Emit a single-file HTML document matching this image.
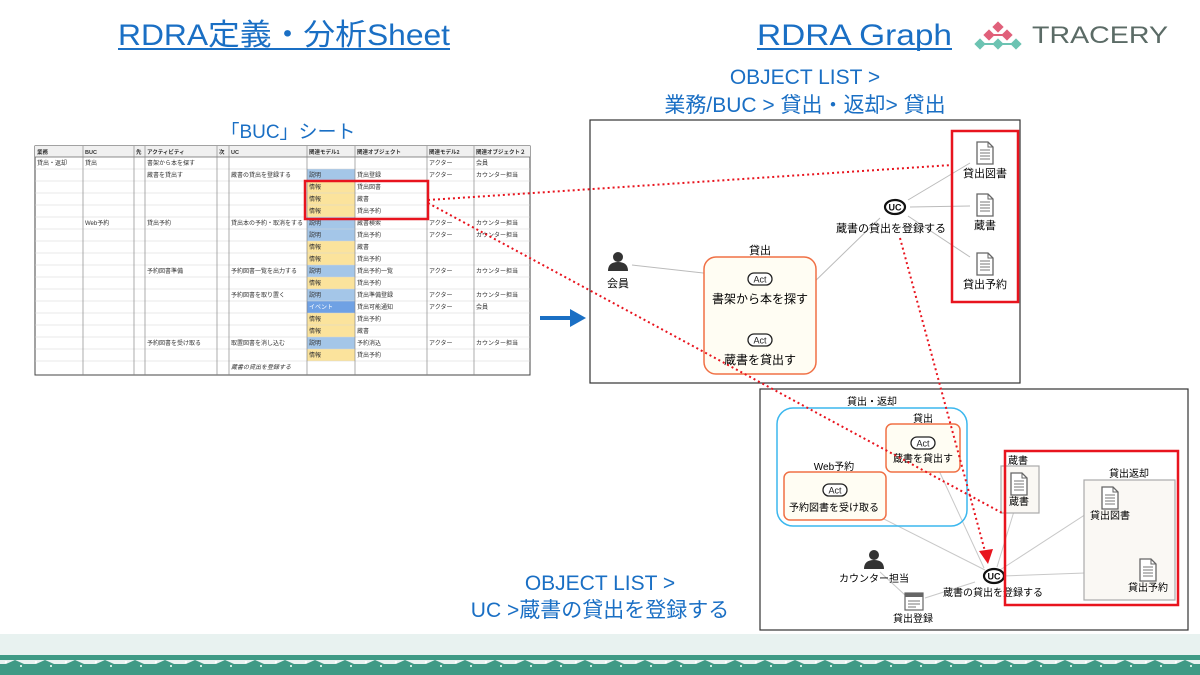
<!DOCTYPE html>
<html><head><meta charset="utf-8"><style>
html,body{margin:0;padding:0;background:#fff;width:1200px;height:675px;overflow:hidden}
svg{display:block}
text{font-family:"Liberation Sans","Noto Sans CJK JP",sans-serif}
</style></head><body>
<svg width="1200" height="675" viewBox="0 0 1200 675" xmlns="http://www.w3.org/2000/svg">
<defs>
<g id="doc"><path d="M-8,-11 h11 l5,5 v17 h-16 z" fill="#fff" stroke="#666" stroke-width="1.3"/><path d="M3,-11 v5 h5" fill="none" stroke="#666"/><path d="M-5,-3 h10 M-5,0 h10 M-5,3 h10 M-5,6 h10" stroke="#777" stroke-width="1"/></g>
<g id="act"><rect x="-12" y="-6" width="24" height="12" rx="6" fill="#fff" stroke="#222" stroke-width="1.3"/><text x="0" y="3.5" font-size="9" text-anchor="middle" fill="#222">Act</text></g>
<g id="uc"><ellipse cx="0" cy="0" rx="10" ry="7" fill="#fff" stroke="#111" stroke-width="2.2"/><text x="0" y="3.5" font-size="9" font-weight="bold" text-anchor="middle" fill="#111">UC</text></g>
<g id="actor"><circle cx="0" cy="-5" r="5" fill="#333"/><path d="M-10,9 q0,-9 10,-9 q10,0 10,9 z" fill="#333"/></g>
<pattern id="pat" x="0" y="0" width="30" height="20" patternUnits="userSpaceOnUse">
<rect width="30" height="20" fill="#3f9a85"/>
<path d="M0,0 h30 v4 l-6,0 -9,-4 -9,4 -6,0z" fill="#e8f2f0"/>
<rect x="5" y="1" width="2" height="2" fill="#fff"/><rect x="20" y="5" width="2" height="2" fill="#cfe8e0"/>
</pattern>
</defs>

<!-- titles -->
<text x="118" y="45" font-size="30" fill="#1a6fc4" textLength="332" lengthAdjust="spacingAndGlyphs">RDRA定義・分析Sheet</text>
<line x1="118" y1="49" x2="450" y2="49" stroke="#1a6fc4" stroke-width="2"/>
<text x="757" y="45" font-size="30" fill="#1a6fc4" textLength="195" lengthAdjust="spacingAndGlyphs">RDRA Graph</text>
<line x1="757" y1="49" x2="952" y2="49" stroke="#1a6fc4" stroke-width="2"/>

<!-- logo -->
<g>
<line x1="989" y1="35" x2="1007" y2="35" stroke="#e0607a" stroke-width="2"/>
<line x1="980" y1="44" x2="1016" y2="44" stroke="#6cc3b2" stroke-width="2"/>
<rect x="994" y="23" width="8" height="8" fill="#e0607a" transform="rotate(45 998 27)"/>
<rect x="985" y="31" width="8" height="8" fill="#e0607a" transform="rotate(45 989 35)"/>
<rect x="1003" y="31" width="8" height="8" fill="#e0607a" transform="rotate(45 1007 35)"/>
<rect x="976" y="40" width="8" height="8" fill="#6cc3b2" transform="rotate(45 980 44)"/>
<rect x="994" y="40" width="8" height="8" fill="#6cc3b2" transform="rotate(45 998 44)"/>
<rect x="1012" y="40" width="8" height="8" fill="#6cc3b2" transform="rotate(45 1016 44)"/>
<text x="1032" y="43" font-size="24" fill="#5b6b66" textLength="136" lengthAdjust="spacingAndGlyphs">TRACERY</text>
</g>

<text x="805" y="84" font-size="21" fill="#1a6fc4" text-anchor="middle">OBJECT LIST &gt;</text>
<text x="805" y="112" font-size="21" fill="#1a6fc4" text-anchor="middle">業務/BUC &gt; 貸出・返却&gt; 貸出</text>
<text x="288" y="138" font-size="19" fill="#1a6fc4" text-anchor="middle">「BUC」シート</text>

<!-- spreadsheet -->
<g font-size="6" fill="#333">
<rect x="35" y="146" width="495" height="229" fill="#fff" stroke="#444" stroke-width="1"/>
<rect x="35" y="146" width="495" height="11" fill="#f0f0f0"/>
<g>
<rect x="307" y="169" width="48" height="12" fill="#a4c6e8"/>
<rect x="307" y="181" width="48" height="36" fill="#fbe39c"/>
<rect x="307" y="217" width="48" height="24" fill="#a4c6e8"/>
<rect x="307" y="241" width="48" height="24" fill="#fbe39c"/>
<rect x="307" y="265" width="48" height="12" fill="#a4c6e8"/>
<rect x="307" y="277" width="48" height="12" fill="#fbe39c"/>
<rect x="307" y="289" width="48" height="12" fill="#a4c6e8"/>
<rect x="307" y="301" width="48" height="12" fill="#6fa1e4"/>
<rect x="307" y="313" width="48" height="24" fill="#fbe39c"/>
<rect x="307" y="337" width="48" height="12" fill="#a4c6e8"/>
<rect x="307" y="349" width="48" height="12" fill="#fbe39c"/>
</g>
<g stroke="#d6d6d6" stroke-width="0.6">
<line x1="35" y1="169" x2="530" y2="169"/><line x1="35" y1="181" x2="530" y2="181"/><line x1="35" y1="193" x2="530" y2="193"/><line x1="35" y1="205" x2="530" y2="205"/><line x1="35" y1="217" x2="530" y2="217"/><line x1="35" y1="229" x2="530" y2="229"/><line x1="35" y1="241" x2="530" y2="241"/><line x1="35" y1="253" x2="530" y2="253"/><line x1="35" y1="265" x2="530" y2="265"/><line x1="35" y1="277" x2="530" y2="277"/><line x1="35" y1="289" x2="530" y2="289"/><line x1="35" y1="301" x2="530" y2="301"/><line x1="35" y1="313" x2="530" y2="313"/><line x1="35" y1="325" x2="530" y2="325"/><line x1="35" y1="337" x2="530" y2="337"/><line x1="35" y1="349" x2="530" y2="349"/><line x1="35" y1="361" x2="530" y2="361"/>
</g>
<line x1="35" y1="157" x2="530" y2="157" stroke="#666" stroke-width="0.8"/>
<g stroke="#888" stroke-width="0.7">
<line x1="83" y1="146" x2="83" y2="375"/><line x1="134" y1="146" x2="134" y2="375"/><line x1="145" y1="146" x2="145" y2="375"/><line x1="217" y1="146" x2="217" y2="375"/><line x1="229" y1="146" x2="229" y2="375"/><line x1="307" y1="146" x2="307" y2="375"/><line x1="355" y1="146" x2="355" y2="375"/><line x1="427" y1="146" x2="427" y2="375"/><line x1="474" y1="146" x2="474" y2="375"/>
</g>
<g font-weight="bold" font-size="5.5"><text x="37" y="154">業務</text><text x="85" y="154">BUC</text><text x="136" y="154">先</text><text x="147" y="154">アクティビティ</text><text x="219" y="154">次</text><text x="231" y="154">UC</text><text x="309" y="154">関連モデル1</text><text x="357" y="154">関連オブジェクト</text><text x="429" y="154">関連モデル2</text><text x="476" y="154">関連オブジェクト２</text></g>
<text x="37" y="165">貸出・返却</text><text x="85" y="165">貸出</text><text x="147" y="165">書架から本を探す</text>
<text x="147" y="177">蔵書を貸出す</text><text x="231" y="177">蔵書の貸出を登録する</text>
<text x="85" y="225">Web予約</text><text x="147" y="225">貸出予約</text><text x="231" y="225">貸出本の予約・取消をする</text>
<text x="147" y="273">予約図書準備</text><text x="231" y="273">予約図書一覧を出力する</text>
<text x="231" y="297">予約図書を取り置く</text>
<text x="147" y="345">予約図書を受け取る</text><text x="231" y="345">取置図書を消し込む</text>
<text x="231" y="369" font-style="italic">蔵書の貸出を登録する</text>
<g><text x="309" y="177">説明</text><text x="309" y="189">情報</text><text x="309" y="201">情報</text><text x="309" y="213">情報</text><text x="309" y="225">説明</text><text x="309" y="237">説明</text><text x="309" y="249">情報</text><text x="309" y="261">情報</text><text x="309" y="273">説明</text><text x="309" y="285">情報</text><text x="309" y="297">説明</text><text x="309" y="309" fill="#fff">イベント</text><text x="309" y="321">情報</text><text x="309" y="333">情報</text><text x="309" y="345">説明</text><text x="309" y="357">情報</text></g>
<g><text x="357" y="177">貸出登録</text><text x="357" y="189">貸出図書</text><text x="357" y="201">蔵書</text><text x="357" y="213">貸出予約</text><text x="357" y="225">蔵書検索</text><text x="357" y="237">貸出予約</text><text x="357" y="249">蔵書</text><text x="357" y="261">貸出予約</text><text x="357" y="273">貸出予約一覧</text><text x="357" y="285">貸出予約</text><text x="357" y="297">貸出準備登録</text><text x="357" y="309">貸出可能通知</text><text x="357" y="321">貸出予約</text><text x="357" y="333">蔵書</text><text x="357" y="345">予約消込</text><text x="357" y="357">貸出予約</text></g>
<g><text x="429" y="165">アクター</text><text x="429" y="177">アクター</text><text x="429" y="225">アクター</text><text x="429" y="237">アクター</text><text x="429" y="273">アクター</text><text x="429" y="297">アクター</text><text x="429" y="309">アクター</text><text x="429" y="345">アクター</text></g>
<g><text x="476" y="165">会員</text><text x="476" y="177">カウンター担当</text><text x="476" y="225">カウンター担当</text><text x="476" y="237">カウンター担当</text><text x="476" y="273">カウンター担当</text><text x="476" y="297">カウンター担当</text><text x="476" y="309">会員</text><text x="476" y="345">カウンター担当</text></g>
</g>
<rect x="305" y="181" width="123" height="38" fill="none" stroke="#e8141e" stroke-width="2.5"/>

<!-- blue arrow -->
<line x1="540" y1="318" x2="572" y2="318" stroke="#1a6fc4" stroke-width="4"/>
<path d="M570,309 L586,318 L570,327 z" fill="#1a6fc4"/>

<!-- graph 1 -->
<rect x="590" y="120" width="430" height="263" fill="#fff" stroke="#333" stroke-width="1.2"/>
<g stroke="#bbb" stroke-width="1" fill="none">
<line x1="632" y1="265" x2="748" y2="278"/>
<line x1="772" y1="323" x2="880" y2="218"/>
<line x1="908" y1="200" x2="970" y2="163"/>
<line x1="910" y1="207" x2="970" y2="206"/>
<line x1="908" y1="216" x2="970" y2="257"/>
<line x1="760" y1="306" x2="760" y2="322"/>
<path d="M755,316 L760,324 L765,316" stroke="#888"/>
</g>
<rect x="704" y="257" width="112" height="117" rx="12" fill="#fffdf3" stroke="#f07045" stroke-width="1.5"/>
<text x="760" y="254" font-size="11" text-anchor="middle">貸出</text>
<use href="#act" x="760" y="279"/>
<text x="760" y="303" font-size="12" text-anchor="middle">書架から本を探す</text>
<use href="#act" x="760" y="340"/>
<text x="760" y="364" font-size="12" text-anchor="middle">蔵書を貸出す</text>
<use href="#actor" x="618" y="262"/>
<text x="618" y="287" font-size="11" text-anchor="middle">会員</text>
<use href="#uc" x="895" y="207"/>
<text x="891" y="232" font-size="11" text-anchor="middle">蔵書の貸出を登録する</text>
<use href="#doc" x="985" y="153"/><text x="985" y="177" font-size="11" text-anchor="middle">貸出図書</text>
<use href="#doc" x="985" y="205"/><text x="985" y="229" font-size="11" text-anchor="middle">蔵書</text>
<use href="#doc" x="985" y="264"/><text x="985" y="288" font-size="11" text-anchor="middle">貸出予約</text>
<rect x="952" y="131" width="66" height="171" fill="none" stroke="#e8141e" stroke-width="2.5"/>

<!-- graph 2 -->
<rect x="760" y="389" width="428" height="241" fill="#fff" stroke="#333" stroke-width="1.2"/>
<g stroke="#c8c8c8" stroke-width="1" fill="none">
<line x1="870" y1="512" x2="985" y2="570"/>
<line x1="935" y1="462" x2="984" y2="568"/>
<line x1="997" y1="567" x2="1015" y2="508"/>
<line x1="1000" y1="570" x2="1100" y2="505"/>
<line x1="1003" y1="576" x2="1140" y2="571"/>
<line x1="925" y1="598" x2="975" y2="582"/>
<line x1="880" y1="572" x2="905" y2="595"/>
</g>
<rect x="777" y="408" width="190" height="118" rx="16" fill="none" stroke="#3bb7ee" stroke-width="1.5"/>
<text x="872" y="405" font-size="10" text-anchor="middle">貸出・返却</text>
<rect x="886" y="424" width="74" height="48" rx="6" fill="#fffdf3" stroke="#f07045" stroke-width="1.5"/>
<text x="923" y="422" font-size="10" text-anchor="middle">貸出</text>
<use href="#act" x="923" y="443"/>
<text x="923" y="462" font-size="10" text-anchor="middle">蔵書を貸出す</text>
<rect x="784" y="472" width="102" height="48" rx="6" fill="#fffdf3" stroke="#f07045" stroke-width="1.5"/>
<text x="834" y="470" font-size="10" text-anchor="middle">Web予約</text>
<use href="#act" x="835" y="490"/>
<text x="834" y="511" font-size="10" text-anchor="middle">予約図書を受け取る</text>
<rect x="1001" y="466" width="38" height="47" fill="#faf8f4" stroke="#aaa" stroke-width="1.2"/>
<text x="1018" y="464" font-size="10" text-anchor="middle">蔵書</text>
<use href="#doc" x="1019" y="484"/>
<text x="1019" y="505" font-size="10" text-anchor="middle">蔵書</text>
<rect x="1084" y="480" width="91" height="120" fill="#faf8f4" stroke="#aaa" stroke-width="1.2"/>
<text x="1129" y="477" font-size="10" text-anchor="middle">貸出返却</text>
<use href="#doc" x="1110" y="498"/>
<text x="1110" y="519" font-size="10" text-anchor="middle">貸出図書</text>
<use href="#doc" x="1148" y="570"/>
<text x="1148" y="591" font-size="10" text-anchor="middle">貸出予約</text>
<use href="#uc" x="994" y="576"/>
<text x="993" y="596" font-size="10" text-anchor="middle">蔵書の貸出を登録する</text>
<use href="#actor" x="874" y="560"/>
<text x="874" y="582" font-size="10" text-anchor="middle">カウンター担当</text>
<rect x="905" y="593" width="18" height="17" fill="#fff" stroke="#666" stroke-width="1.2"/>
<rect x="905" y="593" width="18" height="4" fill="#666"/>
<path d="M908,601 h12 M908,604 h12 M908,607 h8" stroke="#777"/>
<text x="913" y="622" font-size="10" text-anchor="middle">貸出登録</text>
<rect x="1005" y="451" width="173" height="154" fill="none" stroke="#e8141e" stroke-width="2.5"/>

<!-- dotted red lines -->
<g stroke="#e8141e" stroke-width="2" stroke-dasharray="2,3" fill="none">
<line x1="428" y1="200" x2="952" y2="165"/>
<line x1="428" y1="203" x2="1004" y2="514"/>
<line x1="900" y1="238" x2="986" y2="555"/>
</g>
<path d="M979,551 L993,549 L988,564 z" fill="#e8141e"/>

<text x="600" y="590" font-size="21" fill="#1a6fc4" text-anchor="middle">OBJECT LIST &gt;</text>
<text x="600" y="617" font-size="21" fill="#1a6fc4" text-anchor="middle">UC &gt;蔵書の貸出を登録する</text>

<!-- bottom strip -->
<rect x="0" y="634" width="1200" height="41" fill="#e8f2f0"/>
<rect x="0" y="655" width="1200" height="20" fill="url(#pat)"/>
</svg>
</body></html>
